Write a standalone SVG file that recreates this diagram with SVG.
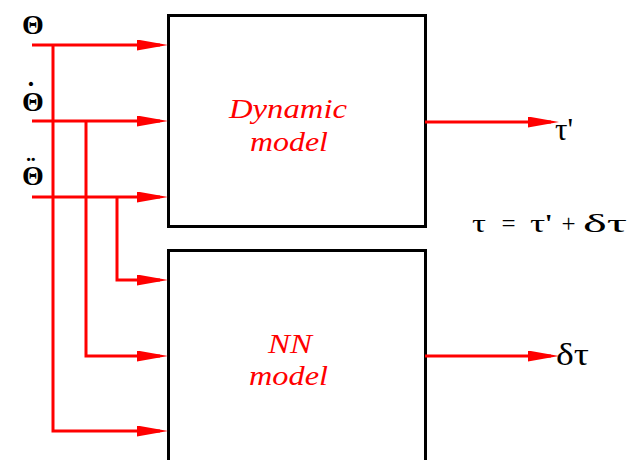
<svg xmlns="http://www.w3.org/2000/svg" width="639" height="460" viewBox="0 0 639 460">
<style>
.box{fill:none;stroke:#000;stroke-width:3}
.wire{fill:none;stroke:#f00;stroke-width:3}
.lbl{font-family:'Liberation Serif',serif;font-style:italic;font-size:28px;fill:#f00}
.sym{font-family:'Liberation Serif',serif;fill:#000}
</style>
<defs>
<marker id="ah" markerUnits="userSpaceOnUse" markerWidth="32" markerHeight="12" refX="23" refY="5.5" orient="auto" viewBox="0 0 32 12">
<path d="M0,0 L31,5.5 L0,11 z" fill="#f00"/>
</marker>
</defs>
<rect width="639" height="460" fill="#fff"/>
<g id="dynamic">
<rect class="box" x="168.5" y="15.5" width="257" height="211"/>
<text class="lbl" x="229" y="118" textLength="118" lengthAdjust="spacingAndGlyphs">Dynamic</text>
<text class="lbl" x="250" y="151" textLength="78" lengthAdjust="spacingAndGlyphs">model</text>
</g>
<g id="nn">
<rect class="box" x="168.5" y="250.5" width="257" height="215"/>
<text class="lbl" x="268" y="353" textLength="44" lengthAdjust="spacingAndGlyphs">NN</text>
<text class="lbl" x="249" y="385" textLength="79" lengthAdjust="spacingAndGlyphs">model</text>
</g>
<g id="labels">
<text class="sym" x="33" y="34" font-size="28" font-weight="bold" text-anchor="middle">Θ</text>
<text class="sym" font-size="28" font-weight="bold" text-anchor="middle"><tspan x="31" y="101">˙</tspan><tspan x="33" y="111">Θ</tspan></text>
<text class="sym" font-size="28" font-weight="bold" text-anchor="middle"><tspan x="31" y="176">¨</tspan><tspan x="33" y="185">Θ</tspan></text>
<text class="sym" x="555" y="140" font-size="31">τ'</text>
<text class="sym" x="556" y="365" font-size="31" textLength="33" lengthAdjust="spacingAndGlyphs">δτ</text>
<text class="sym" x="472" y="232" font-size="25" textLength="14" lengthAdjust="spacingAndGlyphs">τ</text>
<text class="sym" x="508.5" y="232" font-size="25" text-anchor="middle">=</text>
<text class="sym" x="530" y="232" font-size="25" textLength="22" lengthAdjust="spacingAndGlyphs">τ'</text>
<text class="sym" x="568.5" y="232" font-size="25" text-anchor="middle">+</text>
<text class="sym" x="583" y="232" font-size="25" textLength="44" lengthAdjust="spacingAndGlyphs">δτ</text>
</g>
<g id="connectors">
<path class="wire" d="M32,45 H160" marker-end="url(#ah)"/>
<path class="wire" d="M32,121 H160" marker-end="url(#ah)"/>
<path class="wire" d="M32,197 H160" marker-end="url(#ah)"/>
<path class="wire" d="M53,45 V431 H160" marker-end="url(#ah)"/>
<path class="wire" d="M86,121 V356 H160" marker-end="url(#ah)"/>
<path class="wire" d="M117,197 V280 H160" marker-end="url(#ah)"/>
<path class="wire" d="M425,122 H551" marker-end="url(#ah)"/>
<path class="wire" d="M425,356 H551" marker-end="url(#ah)"/>
</g>
</svg>
